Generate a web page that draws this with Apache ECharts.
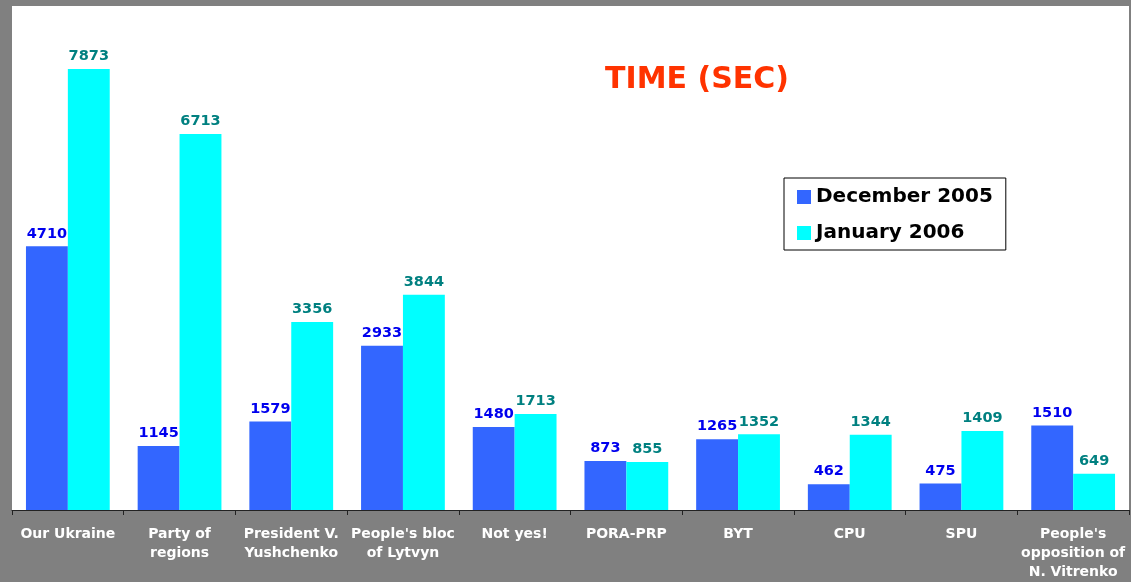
<!DOCTYPE html>
<html>
<head>
<meta charset="utf-8">
<script src="https://cdn.jsdelivr.net/npm/echarts@6/dist/echarts.min.js"></script>
<style>
    html, body {margin: 0; padding: 0; background: #808080;}
    #chart {width: 1131px; height: 582px;}
</style>
</head>
<body>
<div id="chart"></div>
<script>
    // categories and values
    var parties = ['Our Ukraine', 'Party of\nregions', 'President V.\nYushchenko', 'People\'s bloc\nof Lytvyn', 'Not yes!',
        'PORA-PRP', 'BYT', 'CPU', 'SPU', 'People\'s\nopposition of\nN. Vitrenko']
    var dec2005 = [4710, 1145, 1579, 2933, 1480, 873, 1265, 462, 475, 1510]
    var jan2006 = [7873, 6713, 3356, 3844, 1713, 855, 1352, 1344, 1409, 649]

    var chart = echarts.init(document.getElementById('chart'))

    var labelOf = (color) => {
        return {
            show: true,
            position: 'top',
            distance: 5,
            color: color,
            fontFamily: 'DejaVu Sans',
            fontWeight: 'bold',
            fontSize: 14.5
        }
    }

    chart.setOption({
        backgroundColor: '#808080',
        title: {
            text: 'TIME (SEC)',
            left: 692,
            top: 60,
            textAlign: 'center',
            textStyle: {
                color: '#FF3300',
                fontFamily: 'DejaVu Sans',
                fontWeight: 'bold',
                fontSize: 30
            }
        },
        legend: {
            orient: 'vertical',
            left: 784,
            top: 178,
            padding: [9, 13, 7, 13],
            itemGap: 16,
            itemWidth: 14,
            itemHeight: 14,
            icon: 'rect',
            borderColor: '#000',
            borderWidth: 1,
            backgroundColor: '#fff',
            textStyle: {
                color: '#000',
                fontFamily: 'DejaVu Sans',
                fontWeight: 'bold',
                fontSize: 20
            },
            data: ['December 2005', 'January 2006']
        },
        grid: {
            left: 12,
            right: 2,
            top: 6,
            bottom: 69,
            show: true,
            backgroundColor: '#fff',
            borderWidth: 0
        },
        xAxis: {
            type: 'category',
            data: parties,
            axisLine: {lineStyle: {color: '#222', width: 1}},
            axisTick: {show: true, inside: false, length: 5, lineStyle: {color: '#222'}},
            axisLabel: {
                interval: 0,
                margin: 15,
                color: '#fff',
                fontFamily: 'DejaVu Sans',
                fontWeight: 'bold',
                fontSize: 14,
                lineHeight: 19
            }
        },
        yAxis: {
            type: 'value',
            min: 0,
            max: 9000,
            show: false,
            splitLine: {show: false}
        },
        series: [
            {
                name: 'December 2005',
                type: 'bar',
                barGap: '0%',
                barCategoryGap: '25%',
                itemStyle: {color: '#3366FF'},
                label: labelOf('#0000EE'),
                data: dec2005
            },
            {
                name: 'January 2006',
                type: 'bar',
                itemStyle: {color: '#00FFFF'},
                label: labelOf('#008080'),
                data: jan2006
            }
        ]
    })
</script>
</body>
</html>
